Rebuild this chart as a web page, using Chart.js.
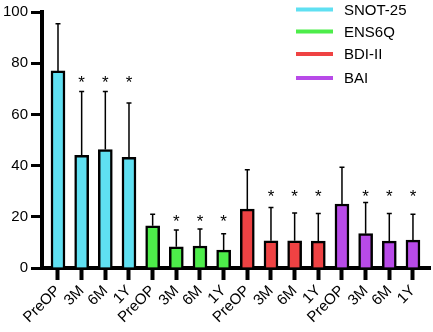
<!DOCTYPE html>
<html>
<head>
<meta charset="utf-8">
<script src="https://cdn.jsdelivr.net/npm/chart.js@4"></script>
<style>
  html, body { margin: 0; padding: 0; background: #fff; }
  #wrap { width: 433px; height: 332px; position: relative; }
</style>
</head>
<body>
<div id="wrap"><canvas id="chart"></canvas></div>
<script>
// time points per questionnaire
const xLabels = ['PreOP', '3M', '6M', '1Y', 'PreOP', '3M', '6M', '1Y',
                 'PreOP', '3M', '6M', '1Y', 'PreOP', '3M', '6M', '1Y'];
const groups = ['SNOT-25', 'ENS6Q', 'BDI-II', 'BAI'];
const groupColors = ['#5fe0f2', '#4ded4a', '#ef4243', '#b84ae8'];
// mean score and SD (upper error bar)
const means = [77, 44, 46.3, 43.2, 16.5, 8.3, 8.6, 7, 23, 10.6, 10.6, 10.5, 25, 13.4, 10.5, 10.9];
const sds = [18.4, 24.9, 22.6, 21.3, 4.5, 6.5, 6.6, 6.4, 15.4, 13, 10.9, 10.8, 14.4, 12.2, 10.8, 10.1];
// significance marks and the height they sit at, per group
const signif = [0, 1, 1, 1, 0, 1, 1, 1, 0, 1, 1, 1, 0, 1, 1, 1];
const starLevel = [74.3, 20, 29.7, 29.7];

const barColors = xLabels.map((l, i) => groupColors[Math.floor(i / 4)]);
const FONT = 'Liberation Sans, Arial, sans-serif';

// error bars + asterisks
const errorBars = {
  id: 'errorBars',
  afterDatasetsDraw(chart) {
    const ctx = chart.ctx;
    const y = chart.scales.y;
    const meta = chart.getDatasetMeta(0);
    ctx.save();
    ctx.strokeStyle = '#000';
    ctx.lineWidth = 1.5;
    meta.data.forEach((bar, i) => {
      const top = y.getPixelForValue(means[i] + sds[i]);
      ctx.beginPath();
      ctx.moveTo(bar.x, bar.y);
      ctx.lineTo(bar.x, top);
      ctx.moveTo(bar.x - 2.5, top);
      ctx.lineTo(bar.x + 2.5, top);
      ctx.stroke();
      if (signif[i]) {
        const sy = y.getPixelForValue(starLevel[Math.floor(i / 4)]);
        ctx.fillStyle = '#000';
        ctx.font = '17px ' + FONT;
        ctx.textAlign = 'center';
        ctx.textBaseline = 'alphabetic';
        ctx.fillText('*', bar.x, sy + 10);
      }
    });
    ctx.restore();
  }
};

// legend at top right: thick coloured line + name
const lineLegend = {
  id: 'lineLegend',
  afterDraw(chart) {
    const ctx = chart.ctx;
    const rows = [9.5, 31.5, 54, 78];
    ctx.save();
    ctx.font = '15px ' + FONT;
    ctx.textBaseline = 'middle';
    ctx.textAlign = 'left';
    groups.forEach((g, i) => {
      ctx.fillStyle = groupColors[i];
      ctx.fillRect(296, rows[i] - 2, 37, 4);
      ctx.fillStyle = '#000';
      ctx.fillText(g, 344, rows[i] + 1);
    });
    ctx.restore();
  }
};

const ctx = document.getElementById('chart');
new Chart(ctx, {
  type: 'bar',
  data: {
    datasets: [{
      data: means.map((m, i) => ({ x: i, y: m })),
      backgroundColor: barColors,
      borderColor: '#000',
      borderWidth: 2.5,
      barThickness: 14
    }]
  },
  options: {
    responsive: true,
    maintainAspectRatio: false,
    animation: false,
    layout: { padding: { top: 11, right: 3, left: 0, bottom: 0 } },
    plugins: { legend: { display: false }, tooltip: { enabled: false } },
    scales: {
      x: {
        type: 'linear',
        min: -0.676,
        max: 15.72,
        offset: false,
        grid: { drawOnChartArea: false, offset: false, tickLength: 12, tickWidth: 4, tickColor: '#000' },
        border: { color: '#000', width: 4 },
        afterBuildTicks: s => { s.ticks = s.ticks.filter(t => Number.isInteger(t.value) && t.value >= 0 && t.value <= 15); },
        afterFit: s => { s.height = 64; },
        ticks: {
          stepSize: 1,
          includeBounds: false,
          autoSkip: false,
          minRotation: 45,
          maxRotation: 45,
          color: '#000',
          padding: 2,
          font: { family: FONT, size: 15 },
          callback: v => xLabels[v]
        }
      },
      y: {
        min: 0,
        max: 100,
        grid: { drawOnChartArea: false, tickLength: 11, tickWidth: 3, tickColor: '#000' },
        border: { color: '#000', width: 4 },
        afterFit: s => { s.width = 42; },
        ticks: {
          stepSize: 20,
          color: '#000',
          padding: 3,
          font: { family: FONT, size: 15 }
        }
      }
    }
  },
  plugins: [errorBars, lineLegend]
});
</script>
</body>
</html>
